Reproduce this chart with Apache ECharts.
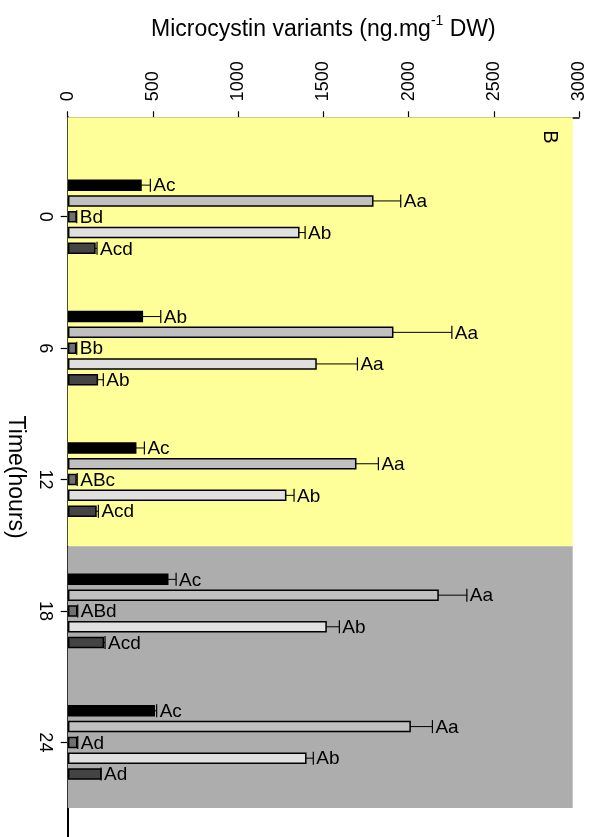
<!DOCTYPE html>
<html>
<head>
<meta charset="utf-8">
<script src="https://cdn.jsdelivr.net/npm/echarts@6/dist/echarts.min.js"></script>
<style>html,body{margin:0;padding:0;background:#fff}#c{width:599px;height:837px}</style>
</head>
<body>
<div id="c"></div>
<script>
// Time points (hours)
var times = [0, 6, 12, 18, 24];
var tickValues = [0, 6, 12, 18, 24];
var xTicks = [0, 500, 1000, 1500, 2000, 2500, 3000];

// Five microcystin variant series (top to bottom inside each group)
var v1 = [430, 438, 399, 587, 508];
var e1 = [55, 108, 51, 49, 14];
var l1 = ['Ac', 'Ab', 'Ac', 'Ac', 'Ac'];

var v2 = [1790, 1907, 1690, 2173, 2009];
var e2 = [164, 347, 133, 169, 131];
var l2 = ['Aa', 'Aa', 'Aa', 'Aa', 'Aa'];

var v3 = [49, 47, 49, 53, 53];
var e3 = [4, 6, 7, 6, 6];
var l3 = ['Bd', 'Bb', 'ABc', 'ABd', 'Ad'];

var v4 = [1356, 1457, 1279, 1516, 1397];
var e4 = [37, 243, 49, 78, 44];
var l4 = ['Ab', 'Aa', 'Ab', 'Ab', 'Ab'];

var v5 = [160, 174, 166, 209, 194];
var e5 = [12, 35, 14, 10, 2];
var l5 = ['Acd', 'Ab', 'Acd', 'Acd', 'Ad'];

// Light / dark phases (hours)
var lightPhase = [-4.54, 15.05];
var darkPhase = [15.05, 27.0];
var phaseXMax = 2963;

var VALS = [v1, v2, v3, v4, v5];
var ERRS = [e1, e2, e3, e4, e5];
var LABS = [l1, l2, l3, l4, l5];
var COLORS = ['#000000', '#c0c0c0', '#707070', '#e0e0e0', '#444444'];
var OFFS = [-31.6, -15.8, 0, 15.8, 31.6];
var FONT = 'Liberation Sans, Arial, sans-serif';

function makeSeries(idx) {
  return {
    type: 'custom',
    z: 3,
    data: times.map(function (t, i) { return [VALS[idx][i], t, ERRS[idx][i]]; }),
    encode: { x: 0, y: 1 },
    renderItem: function (params, api) {
      var v = api.value(0), t = api.value(1), e = api.value(2);
      var p0 = api.coord([0, t]);
      var p1 = api.coord([v, t]);
      var p2 = api.coord([v + e, t]);
      var y = p0[1] + OFFS[idx];
      var h = 10;
      var x0 = p0[0] + 1;
      return {
        type: 'group',
        children: [
          { type: 'line', shape: { x1: p1[0], y1: y, x2: p2[0], y2: y }, style: { stroke: '#000', lineWidth: 1 } },
          { type: 'line', shape: { x1: p2[0], y1: y - 6.5, x2: p2[0], y2: y + 6.5 }, style: { stroke: '#000', lineWidth: 1.2 } },
          { type: 'rect', shape: { x: x0, y: y - h / 2, width: Math.max(p1[0] - x0, 1), height: h },
            style: { fill: COLORS[idx], stroke: '#000', lineWidth: 1.5 } },
          { type: 'text', x: p2[0] + 3, y: y + 1,
            style: { text: LABS[idx][params.dataIndex], fill: '#000', font: '19px ' + FONT, align: 'left', verticalAlign: 'middle' } }
        ]
      };
    }
  };
}

var series = [
  {
    type: 'line', z: 1, data: [], silent: true,
    markArea: {
      silent: true,
      data: [
        [{ xAxis: 0, yAxis: lightPhase[0], itemStyle: { color: '#ffff99', opacity: 1 } }, { xAxis: phaseXMax, yAxis: lightPhase[1] }],
        [{ xAxis: 0, yAxis: darkPhase[0], itemStyle: { color: '#adadad', opacity: 1 } }, { xAxis: phaseXMax, yAxis: darkPhase[1] }]
      ]
    }
  }
];
for (var i = 0; i < 5; i++) series.push(makeSeries(i));

function plain(v) { return String(v); }

var chart = echarts.init(document.getElementById('c'));
chart.setOption({
  animation: false,
  backgroundColor: '#fff',
  grid: { left: 67.7, right: 20, top: 117.3, bottom: 0, containLabel: false, outerBoundsMode: 'none' },
  xAxis: {
    type: 'value', position: 'top', min: 0, max: 3000, interval: 500,
    name: '{a|Microcystin variants (ng.mg}{s|-1}{a| DW)}',
    nameLocation: 'middle', nameGap: 76,
    nameTextStyle: {
      rich: {
        a: { fontSize: 23, fontFamily: FONT, color: '#000', verticalAlign: 'bottom', lineHeight: 27 },
        s: { fontSize: 14, fontFamily: FONT, color: '#000', verticalAlign: 'top', lineHeight: 27, padding: [0, 0, 12, 0] }
      }
    },
    axisLine: { onZero: false, lineStyle: { color: '#000', width: 1.5 } },
    axisTick: { length: 6, lineStyle: { color: '#000', width: 1.2 } },
    axisLabel: { rotate: -90, margin: 16, fontSize: 18, fontFamily: FONT, color: '#000',
      customValues: xTicks, formatter: plain },
    splitLine: { show: false }
  },
  yAxis: {
    type: 'value', inverse: true, min: -4.54, max: 28.32,
    name: 'Time(hours)', nameLocation: 'middle', nameGap: 41, nameRotate: -90,
    nameTextStyle: { fontSize: 23, fontFamily: FONT, color: '#000', padding: [0, 0, 0, 0] },
    axisLine: { onZero: false, lineStyle: { color: '#000', width: 2 } },
    axisTick: { length: 7, customValues: tickValues, lineStyle: { color: '#000', width: 1.2 } },
    axisLabel: { rotate: -90, margin: 14, fontSize: 18, fontFamily: FONT, color: '#000',
      customValues: tickValues, formatter: plain },
    splitLine: { show: false }
  },
  graphic: [
    { type: 'text', x: 550, y: 137, rotation: -Math.PI / 2, z: 100,
      style: { text: 'B', font: '20px ' + FONT, fill: '#000', align: 'center', verticalAlign: 'middle' } }
  ],
  series: series
});
</script>
</body>
</html>
